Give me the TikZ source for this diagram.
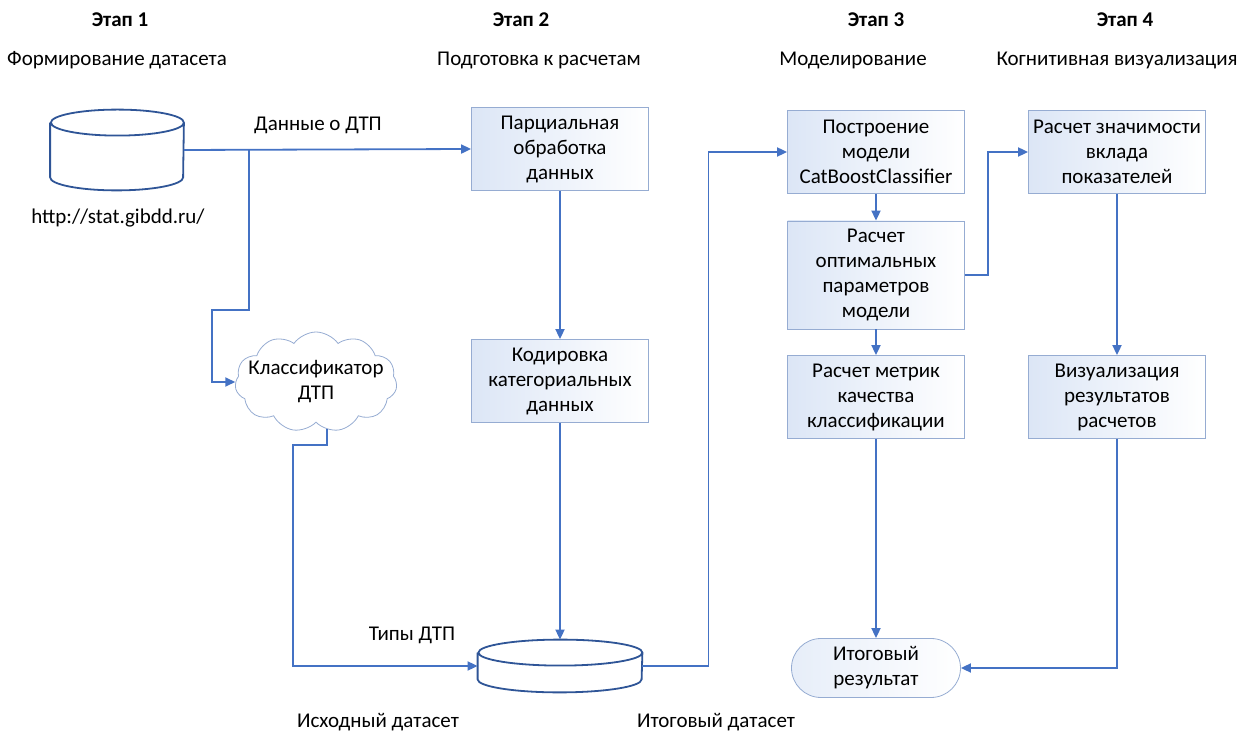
\documentclass[tikz,border=0pt]{standalone}
\usepackage{fontspec}
\setmainfont{Carlito}
\usetikzlibrary{
  arrows.meta,
  positioning,
  shapes.symbols,
  shapes.misc,
  calc
}
\definecolor{flow}{RGB}{68,114,196}
\definecolor{dbblue}{RGB}{47,85,151}
\definecolor{frame}{RGB}{150,172,210}
\definecolor{boxfill}{RGB}{220,230,246}

% cylinder outline round a plain node: name, x radius, y radius
\newcommand{\dbdraw}[3]{%
  \draw[dbline] ([yshift=-#3]#1.north west) -- ([yshift=#3]#1.south west)
    arc[start angle=180, end angle=360, x radius=#2, y radius=#3]
    -- ([yshift=-#3]#1.north east)
    arc[start angle=0, end angle=360, x radius=#2, y radius=#3];
}

\begin{document}
\begin{tikzpicture}[
  x=0.5pt, y=-0.5pt,
  every node/.style={font=\fontsize{10.5}{12.5}\selectfont},
  stepbox/.style={draw=frame, left color=boxfill, right color=white,
                  minimum width=88.5pt, minimum height=41.5pt,
                  align=center, inner sep=2pt},
  dbnode/.style={fill=white, inner sep=0pt},
  dbline/.style={draw=dbblue, line width=0.9pt},
  cloudbox/.style={cloud, cloud puffs=11, cloud puff arc=110, cloud ignores aspect,
                   draw=frame, fill=white, minimum width=81pt, minimum height=50pt,
                   align=center, inner xsep=-14pt, inner ysep=-8pt},
  termbox/.style={rounded rectangle, draw=frame, left color=boxfill!70,
                  right color=white, minimum width=88.5pt, minimum height=29.5pt,
                  align=center, inner sep=2pt},
  head/.style={font=\fontsize{10.5}{12.5}\selectfont\bfseries},
  link/.style={draw=flow, line width=0.9pt},
  >={Triangle[length=5pt, width=4.5pt]}
]
\useasboundingbox (0,0) rectangle (1237,731);

% stage headers
\node[head] (s1h) at (120,20) {Этап 1};
\node (s1t) at (117,60) {Формирование датасета};
\node[head] (s2h) at (521,20) {Этап 2};
\node (s2t) at (539,60) {Подготовка к расчетам};
\node[head] (s3h) at (876,20) {Этап 3};
\node (s3t) at (853,60) {Моделирование};
\node[head] (s4h) at (1125,20) {Этап 4};
\node (s4t) at (1117,60) {Когнитивная визуализация};

% stage 1
\node[dbnode, minimum width=66.5pt, minimum height=40pt] (src) at (117,150) {};
\dbdraw{src}{33.25pt}{6.5pt}
\node (srcl) at (118,218) {http://stat.gibdd.ru/};
\node (dtp) at (318,125) {Данные о ДТП};
\node[cloudbox] (cls) at (316,382) {Классификатор\\ДТП};

% stage 2
\node[stepbox] (part) at (560,149) {%
  Парциальная\\
  обработка\\
  данных
};
\node[stepbox] (code) at (560,381) {%
  Кодировка\\
  категориальных\\
  данных
};
\node[dbnode, minimum width=82pt, minimum height=26pt] (ds) at (560,666) {};
\dbdraw{ds}{41pt}{6.5pt}
\node (types) at (412,635) {Типы ДТП};
\node (dsl) at (378,722) {Исходный датасет};
\node (finl) at (716,722) {Итоговый датасет};

% stage 3
\node[stepbox] (build) at (876,152) {%
  Построение\\
  модели\\
  CatBoostClassifier
};
\node[stepbox, minimum height=54pt] (opt) at (876,275) {%
  Расчет\\
  оптимальных\\
  параметров\\
  модели
};
\node[stepbox] (metr) at (876,397) {%
  Расчет метрик\\
  качества\\
  классификации
};
\node[termbox] (res) at (876,668) {Итоговый\\результат};

% stage 4
\node[stepbox] (imp) at (1117,152) {%
  Расчет значимости\\
  вклада\\
  показателей
};
\node[stepbox] (vis) at (1117,397) {%
  Визуализация\\
  результатов\\
  расчетов
};

% connectors
\coordinate (br) at (249,150);
\coordinate (brk) at (212,310);
\coordinate (cdrop) at (293,445);
\draw[link, ->] (src.east) -- (part.west);
\draw[link, ->] (br) |- (brk) |- (cls.west);
\draw[link, ->] (cls.283) |- (cdrop) |- (ds.west);
\draw[link, ->] (part.south) -- (code.north);
\draw[link, ->] (code.south) -- (ds.north);
\draw[link, ->] (ds.east) -- ++(66,0) |- (build.west);
\draw[link, ->] (build.south) -- (opt.north);
\draw[link, ->] (opt.east) -- ++(23,0) |- (imp.west);
\draw[link, ->] (opt.south) -- (metr.north);
\draw[link, ->] (metr.south) -- (res.north);
\draw[link, ->] (imp.south) -- (vis.north);
\draw[link, ->] (vis.south) |- (res.east);

\end{tikzpicture}
\end{document}
